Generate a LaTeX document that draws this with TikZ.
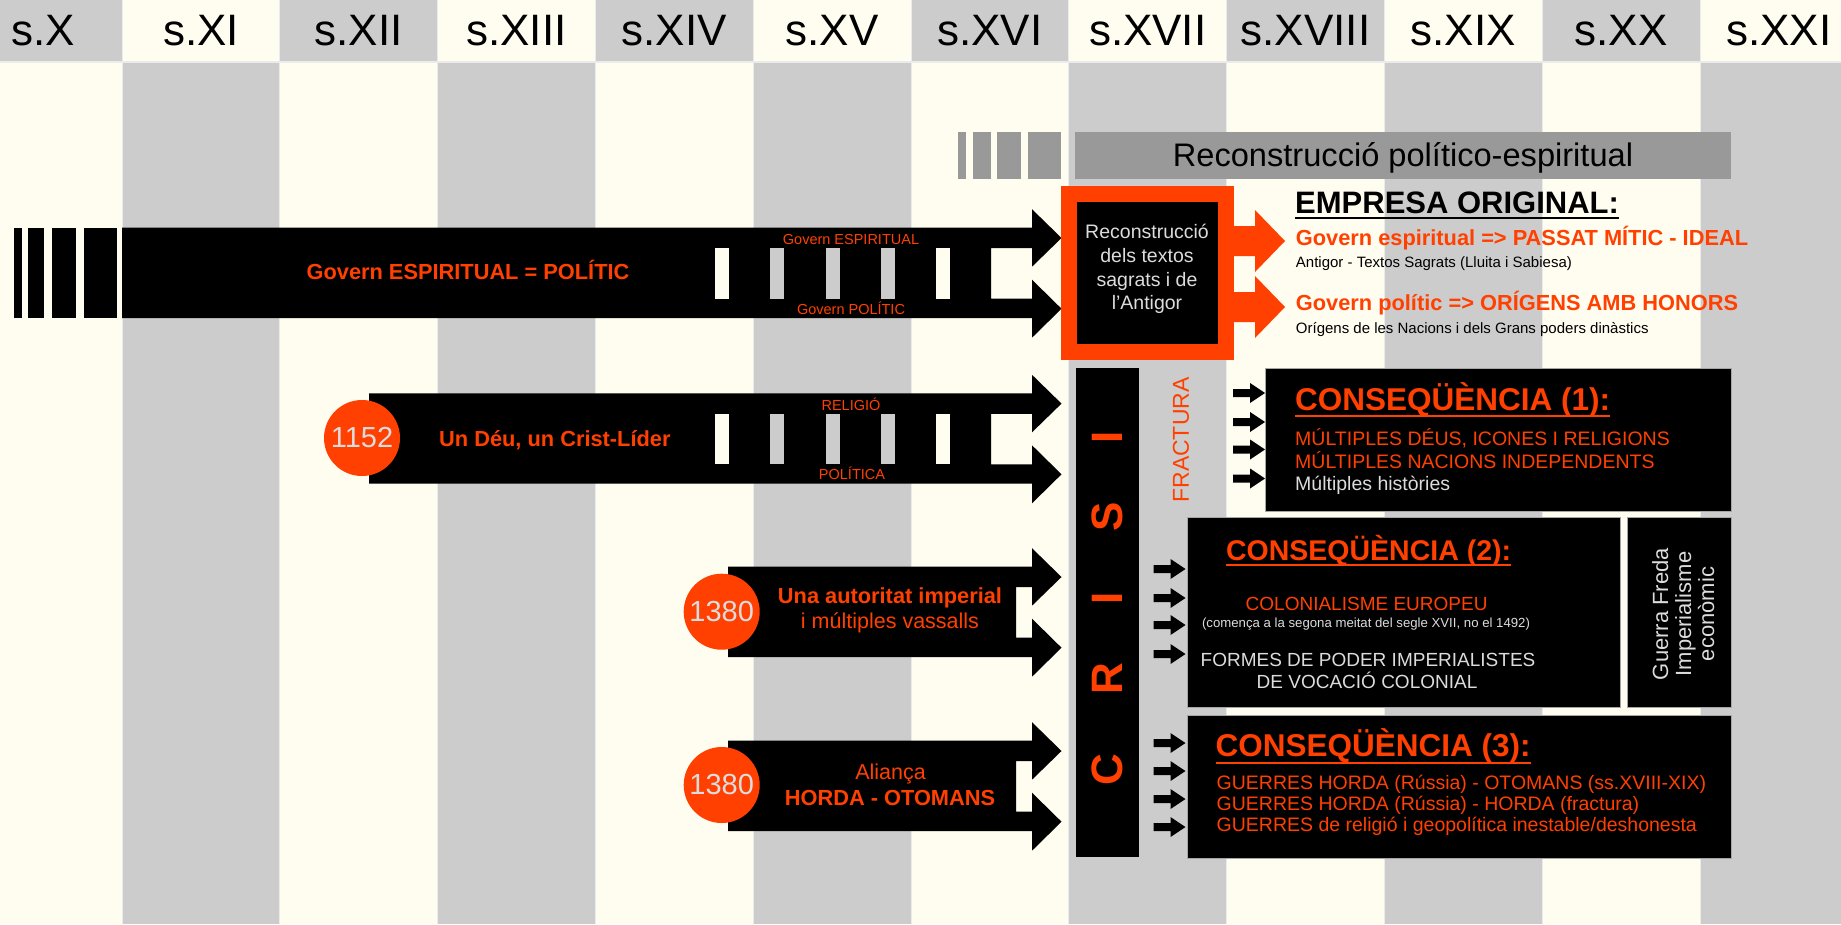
\documentclass[tikz,border=0pt]{standalone}
\usepackage{fontspec}
\setmainfont{Liberation Sans}
\definecolor{cream}{HTML}{FFFCF0}
\definecolor{colgrey}{HTML}{CCCCCC}
\definecolor{bargrey}{HTML}{999999}
\definecolor{orred}{RGB}{255,64,0}
\definecolor{pale}{HTML}{DCDCDC}
\newcommand{\pxf}[1]{\fontsize{#1}{#1}\selectfont}
\tikzset{
  hdr/.style={inner sep=0pt, font=\pxf{44}},
  boldtxt/.style={inner sep=0pt, text=orred, font=\bfseries\pxf{21.8}},
  plaintxt/.style={inner sep=0pt, text=orred, font=\pxf{21.5}},
  smalltxt/.style={inner sep=0pt, text=orred, font=\pxf{14.5}},
  notetxt/.style={inner sep=0pt, font=\pxf{15}},
  contitle/.style={inner sep=0pt, text=orred, font=\bfseries\pxf{31.5}},
  contxt/.style={inner sep=0pt, text=orred, font=\pxf{19.5}},
  yearball/.style={circle, fill=orred, minimum size=76pt, inner sep=0pt, text=pale, font=\pxf{29}},
  blackbox/.style={fill=black, draw=black!35, anchor=north west, inner sep=0pt}
}
\begin{document}
\begin{tikzpicture}[x=1pt,y=-1pt]
\useasboundingbox (0,0) rectangle (1841,924);
\clip (0,0) rectangle (1841,924);
\fill[black!8] (0,0) rectangle (1841,924);
% segles
\foreach \r/\hc/\bc [count=\i from 0] in {X/colgrey/cream,XI/cream/colgrey,XII/colgrey/cream,XIII/cream/colgrey,XIV/colgrey/cream,XV/cream/colgrey,XVI/colgrey/cream,XVII/cream/colgrey,XVIII/colgrey/cream,XIX/cream/colgrey,XX/colgrey/cream,XXI/cream/colgrey}{
  \fill[\hc] ({-35.3+157.8*\i},0) rectangle ({121.5+157.8*\i},61);
  \fill[\bc] ({-35.3+157.8*\i},62.5) rectangle ({121.5+157.8*\i},924);
  \node[hdr, anchor=base] (s\r) at ({43.1+157.8*\i},45) {s.\r};
}
% reconstruccio
\foreach \a/\b in {958/966,973/991,997/1021,1028/1061}
  \fill[bargrey] (\a,131.5) rectangle (\b,179);
\node[fill=bargrey, anchor=north west, minimum width=656pt, minimum height=47.5pt, inner sep=0pt] (recbar) at (1075,131.5) {};
\node[inner sep=0pt, anchor=base, font=\pxf{32.6}] (rectitle) at (1403,166.7) {Reconstrucció político-espiritual};
% bandes negres
\foreach \a/\b in {13.5/21.5,28/44,51.5/76,84/117}
  \fill (\a,227.7) rectangle (\b,318);
\foreach \xl/\yt/\xn in {122/227.7/991,369/393.3/991,728/566.7/1016,728/740.7/1016}
  \fill (\xl,\yt) -- (1032,\yt) -- (1032,{\yt-18.5}) -- (1061.5,{\yt+10.3}) -- (1032,{\yt+39}) -- (1032,{\yt+20.5})
    -- (\xn,{\yt+20.5}) -- (\xn,{\yt+71}) -- (1032,{\yt+71}) -- (1032,{\yt+52}) -- (1061.5,{\yt+81})
    -- (1032,{\yt+110}) -- (1032,{\yt+90.3}) -- (\xl,{\yt+90.3}) -- cycle;
\foreach \yt in {227.7,393.3}
  \foreach \hx/\hc in {715/cream,770/colgrey,825.5/colgrey,880.5/colgrey,935.5/cream}
    \fill[\hc] (\hx,{\yt+20.5}) rectangle +(14,50.5);
\node[boldtxt, anchor=base] (govern) at (468,279) {Govern ESPIRITUAL = POLÍTIC};
\node[smalltxt, anchor=base] (gesp) at (851,244.5) {Govern ESPIRITUAL};
\node[smalltxt, anchor=base] (gpol) at (851,314.5) {Govern POLÍTIC};
\node[yearball] (y1152) at (362,438) {1152};
\node[boldtxt, anchor=base west] (deu) at (439,446.7) {Un Déu, un Crist-Líder};
\node[smalltxt, anchor=base] (relig) at (851,410) {RELIGIÓ};
\node[smalltxt, anchor=base] (polit) at (852,479) {POLÍTICA};
\node[yearball] (y1380a) at (721.7,611.7) {1380};
\node[boldtxt, anchor=base] (imper) at (890,603.3) {Una autoritat imperial};
\node[plaintxt, anchor=base] (vass) at (890,628.3) {i múltiples vassalls};
\node[yearball] (y1380b) at (721.7,785) {1380};
\node[plaintxt, anchor=base] (alia) at (890.5,779.3) {Aliança};
\node[boldtxt, anchor=base] (horda) at (890,805) {HORDA - OTOMANS};
% caixa taronja
\node[fill=orred, anchor=north west, minimum width=173.5pt, minimum height=174pt, inner sep=0pt] (recbox) at (1060.5,186) {};
\node[fill=black, minimum size=141.5pt, inner sep=0pt] (recin) at (recbox.center) {};
\node[inner sep=0pt, text=pale, align=center, font=\fontsize{19.5}{23.7}\selectfont] (rectxt) at (1147,269) {Reconstrucció\\dels textos\\sagrats i de\\l'Antigor};
\foreach \ay in {241,307}
  \fill[orred] (1233,{\ay-15}) -- (1255,{\ay-15}) -- (1255,{\ay-31}) -- (1285,\ay) -- (1255,{\ay+31}) -- (1255,{\ay+15}) -- (1233,{\ay+15}) -- cycle;
\node[inner sep=0pt, anchor=base west, font=\bfseries\pxf{31}] (empresa) at (1295,213.3) {EMPRESA ORIGINAL:};
\draw[line width=2pt] ([yshift=-5pt]empresa.base west) -- ([yshift=-5pt]empresa.base east);
\node[boldtxt, anchor=base west] (passat) at (1295.7,245) {Govern espiritual => PASSAT MÍTIC - IDEAL};
\node[notetxt, anchor=base west] (antig) at (1295.7,267) {Antigor - Textos Sagrats (Lluita i Sabiesa)};
\node[boldtxt, anchor=base west] (origens) at (1295.7,310) {Govern polític => ORÍGENS AMB HONORS};
\node[notetxt, anchor=base west] (nacions) at (1295.7,333) {Orígens de les Nacions i dels Grans poders dinàstics};
% crisi
\fill (1075.5,367.5) rectangle (1139,857);
\foreach \l/\ly [count=\k] in {C/770,R/679,I/598,S/517,I/437}
  \node[inner sep=0pt, text=orred, rotate=90, font=\bfseries\pxf{44}] (crisi\k) at (1107.5,\ly) {\l};
\node[inner sep=0pt, text=orred, rotate=90, font=\pxf{23}] (fractura) at (1181,440) {FRACTURA};
% consequencies
\node[blackbox, minimum width=466pt, minimum height=143.5pt] (cons1) at (1265,367.5) {};
\node[blackbox, minimum width=433.5pt, minimum height=190.5pt] (cons2) at (1186.5,516.5) {};
\node[blackbox, minimum width=104.5pt, minimum height=190.5pt] (freda) at (1626.5,516.5) {};
\node[blackbox, minimum width=544.5pt, minimum height=142.5pt] (cons3) at (1186.5,715) {};
\foreach \ax/\ay in {1233/393,1233/422,1233/449.5,1233/478.5,1153.5/569,1153.5/598,1153.5/625,1153.5/654,1153.5/743,1153.5/771,1153.5/799,1153.5/827}
  \fill (\ax,{\ay-4}) -- ++(17,0) -- ++(0,-6) -- ++(15,10) -- ++(-15,10) -- ++(0,-6) -- ++(-17,0) -- cycle;
\node[contitle, anchor=base west] (c1title) at (1295,410) {CONSEQÜÈNCIA (1):};
\draw[orred, line width=2pt] ([yshift=-6pt]c1title.base west) -- ([yshift=-6pt]c1title.base east);
\node[contxt, anchor=base west] (c1a) at (1295,445) {MÚLTIPLES DÉUS, ICONES I RELIGIONS};
\node[contxt, anchor=base west] (c1b) at (1295,468.5) {MÚLTIPLES NACIONS INDEPENDENTS};
\node[contxt, text=pale, anchor=base west] (c1c) at (1295,490) {Múltiples històries};
\node[contitle, font=\bfseries\pxf{28.5}, anchor=base] (c2title) at (1368.6,560) {CONSEQÜÈNCIA (2):};
\draw[orred, line width=2pt] ([yshift=-5pt]c2title.base west) -- ([yshift=-5pt]c2title.base east);
\node[contxt, font=\pxf{19}, anchor=base] (c2a) at (1366.6,610) {COLONIALISME EUROPEU};
\node[contxt, text=pale, font=\pxf{13.2}, anchor=base] (c2b) at (1366,627) {(comença a la segona meitat del segle XVII, no el 1492)};
\node[contxt, text=pale, font=\pxf{19}, anchor=base] (c2c) at (1368,666.7) {FORMES DE PODER IMPERIALISTES};
\node[contxt, text=pale, font=\pxf{19}, anchor=base] (c2d) at (1367,688) {DE VOCACIÓ COLONIAL};
\foreach \fx/\ft [count=\k] in {1668/Guerra Freda,1691/Imperialisme,1714/econòmic}
  \node[inner sep=0pt, text=pale, rotate=90, anchor=base, font=\pxf{22}] (freda\k) at (\fx,614) {\ft};
\node[contitle, anchor=base west] (c3title) at (1215.5,756.7) {CONSEQÜÈNCIA (3):};
\draw[orred, line width=2pt] ([yshift=-6pt]c3title.base west) -- ([yshift=-6pt]c3title.base east);
\node[contxt, anchor=base west] (c3a) at (1216.5,789) {GUERRES HORDA (Rússia) - OTOMANS (ss.XVIII-XIX)};
\node[contxt, anchor=base west] (c3b) at (1216.5,810) {GUERRES HORDA (Rússia) - HORDA (fractura)};
\node[contxt, anchor=base west] (c3c) at (1216.5,831.7) {GUERRES de religió i geopolítica inestable/deshonesta};
\end{tikzpicture}
\end{document}
